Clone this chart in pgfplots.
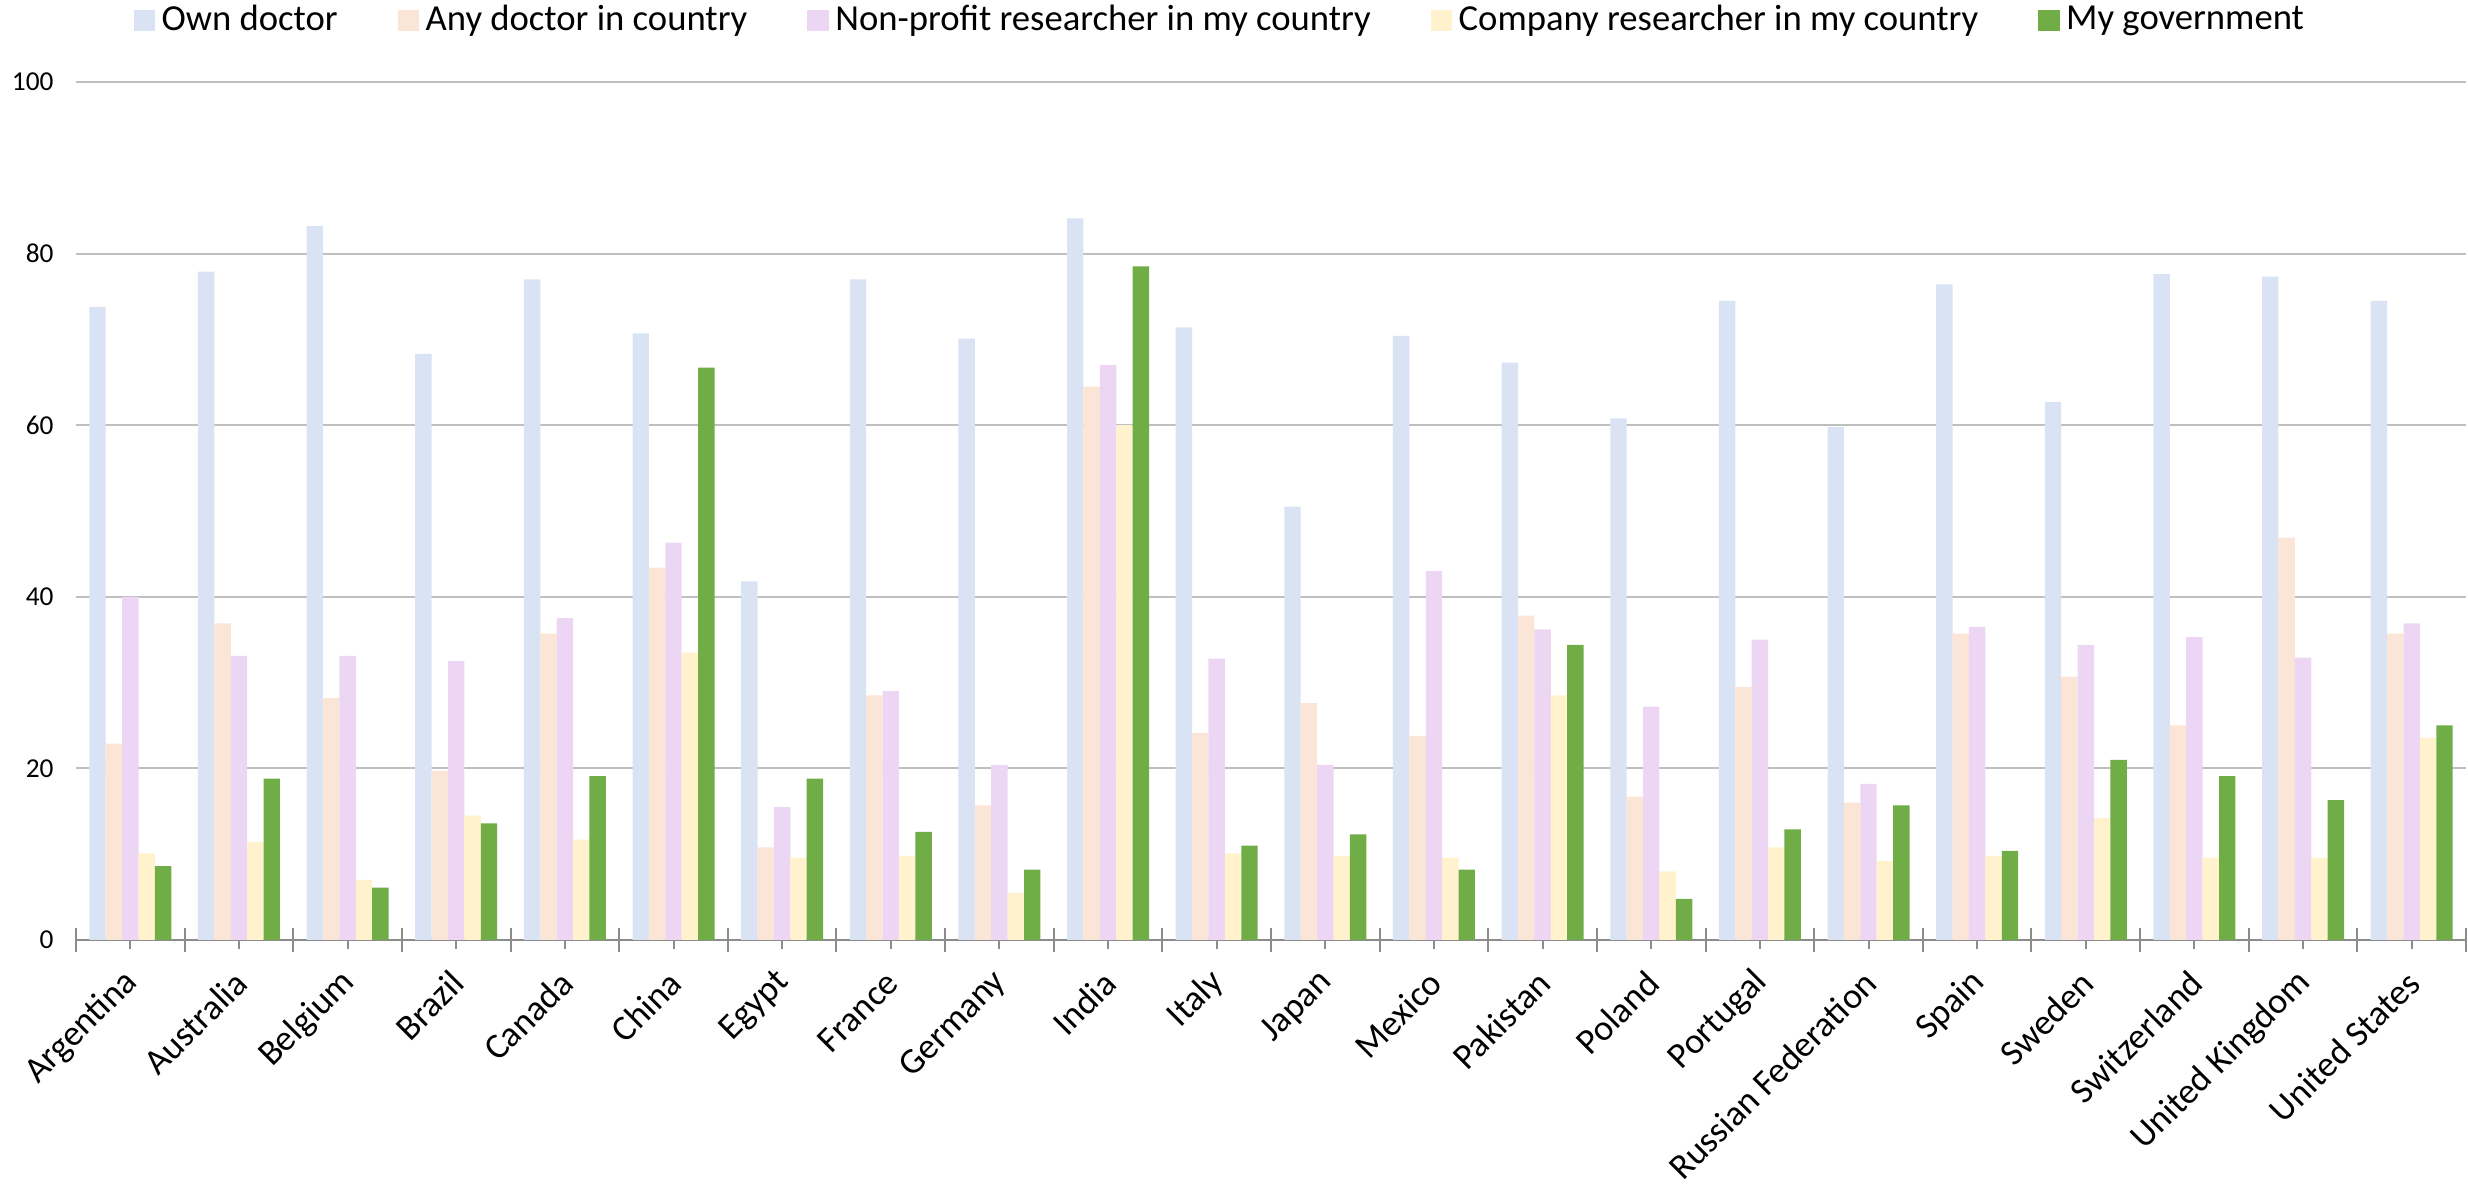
\documentclass[border=0pt]{standalone}
\usepackage{fontspec}
\setmainfont{Carlito}
\usepackage{pgfplots}
\usepackage{pgfplotstable}
\pgfplotsset{compat=1.18}

\definecolor{owncol}{HTML}{DAE3F3}
\definecolor{anycol}{HTML}{FBE5D6}
\definecolor{npcol}{HTML}{EDD6F3}
\definecolor{cocol}{HTML}{FFF2CC}
\definecolor{govcol}{HTML}{70AD47}
\definecolor{gridgray}{HTML}{BFBFBF}
\definecolor{axisgray}{HTML}{8C8C8C}

% Share of respondents (%) who trust each party, by country
\pgfplotstableread{
idx own any np co gov
0  73.8 22.9 40.0 10.1  8.6
1  77.9 36.9 33.1 11.4 18.8
2  83.2 28.2 33.1  7.0  6.1
3  68.3 19.7 32.5 14.5 13.6
4  77.0 35.7 37.5 11.7 19.1
5  70.7 43.4 46.3 33.5 66.7
6  41.8 10.8 15.5  9.6 18.8
7  77.0 28.5 29.0  9.8 12.6
8  70.1 15.7 20.4  5.5  8.2
9  84.1 64.5 67.0 60.0 78.5
10 71.4 24.1 32.8 10.1 11.0
11 50.5 27.6 20.4  9.8 12.3
12 70.4 23.8 43.0  9.6  8.2
13 67.3 37.8 36.2 28.5 34.4
14 60.8 16.7 27.2  8.0  4.8
15 74.5 29.5 35.0 10.8 12.9
16 59.8 16.0 18.2  9.2 15.7
17 76.4 35.7 36.5  9.8 10.4
18 62.7 30.7 34.4 14.2 21.0
19 77.6 25.0 35.3  9.6 19.1
20 77.3 46.9 32.9  9.6 16.3
21 74.5 35.7 36.9 23.6 25.0
}\trustdata

\pgfplotsset{
  trustbar/.style={fill=#1, draw=none,
    legend image code/.code={\path[fill=#1] (0pt,-3.2pt) rectangle (6.4pt,3.2pt);}},
}

\begin{document}
\begin{tikzpicture}
\begin{axis}[
  scale only axis, width=717pt, height=257.4pt,
  xmin=-0.5, xmax=21.5, ymin=0, ymax=100,
  ybar, bar width=4.92pt,
  axis x line*=bottom, axis y line*=left,
  x axis line style={-, draw=axisgray, line width=0.65pt},
  y axis line style={draw=none},
  xtick={0,...,21},
  xticklabels={Argentina,Australia,Belgium,Brazil,Canada,China,Egypt,France,Germany,India,Italy,Japan,Mexico,Pakistan,Poland,Portugal,Russian Federation,Spain,Sweden,Switzerland,United Kingdom,United States},
  minor xtick={-0.5,0.5,...,21.5},
  tick align=center,
  major tick length=5.4pt, minor tick length=7.2pt,
  x tick style={draw=axisgray, line width=0.6pt},
  ytick={0,20,...,100},
  y tick style={draw=none},
  ymajorgrids, grid style={draw=gridgray, line width=0.6pt},
  /pgf/number format/assume math mode=true,
  y tick label style={font=\fontsize{8.2}{10}\selectfont, xshift=-0.5pt},
  x tick label style={font=\fontsize{10.8}{13}\selectfont, anchor=east, xshift=3pt, yshift=-6pt, rotate=45},
  legend style={at={(0.4795,1)}, anchor=center, yshift=18.4pt, draw=none, fill=none,
    legend columns=-1, font=\fontsize{11}{13}\selectfont,
    /tikz/every even column/.append style={column sep=16pt}},
]
\addplot[trustbar=owncol, bar shift=-9.84pt] table[x=idx, y=own] {\trustdata};
\addplot[trustbar=anycol, bar shift=-4.92pt] table[x=idx, y=any] {\trustdata};
\addplot[trustbar=npcol,  bar shift=0pt]     table[x=idx, y=np]  {\trustdata};
\addplot[trustbar=cocol,  bar shift=4.92pt]  table[x=idx, y=co]  {\trustdata};
\addplot[trustbar=govcol, bar shift=9.84pt]  table[x=idx, y=gov] {\trustdata};
\legend{Own doctor, Any doctor in country, Non-profit researcher in my country, Company researcher in my country, My government}
\end{axis}
\pgfresetboundingbox
\path[use as bounding box] ([xshift=-22.8pt,yshift=-75.3pt]current axis.south west) rectangle ([xshift=0.6pt,yshift=24.6pt]current axis.north east);
\end{tikzpicture}
\end{document}
